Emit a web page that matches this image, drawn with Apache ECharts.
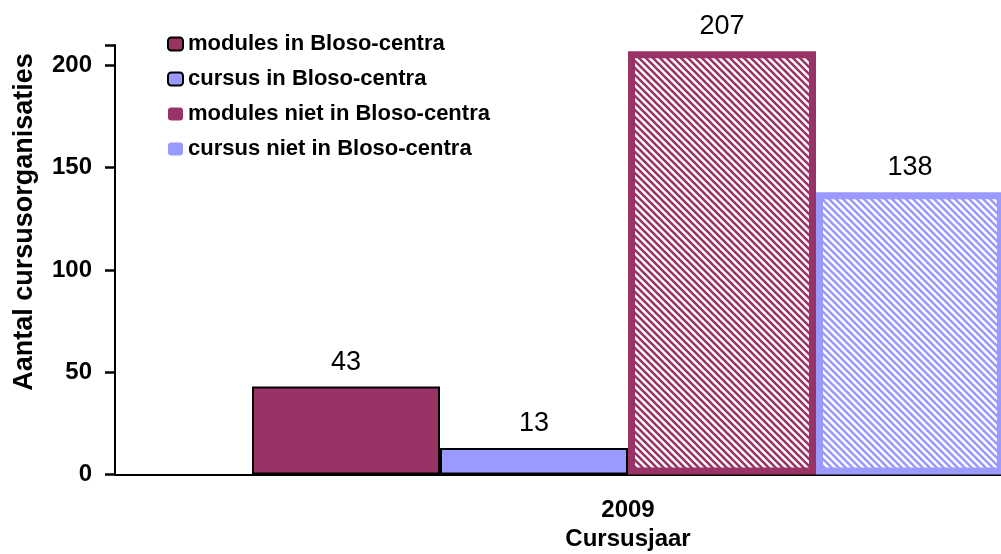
<!DOCTYPE html>
<html>
<head>
<meta charset="utf-8">
<script src="https://cdn.jsdelivr.net/npm/echarts@6/dist/echarts.min.js"></script>
<style>
  html, body { margin: 0; padding: 0; background: #fff; }
  #chart { width: 1001px; height: 554px; }
</style>
</head>
<body>
<div id="chart"></div>
<script>
  // data
  var categories = ['2009'];
  var seriesNames = ['modules in Bloso-centra', 'cursus in Bloso-centra', 'modules niet in Bloso-centra', 'cursus niet in Bloso-centra'];
  var modulesIn = [43];
  var cursusIn = [13];
  var modulesNiet = [207];
  var cursusNiet = [138];
  var yTicks = [0, 50, 100, 150, 200];

  var MAROON = '#993366';
  var LAVENDER = '#9999ff';
  var FONT = '"Liberation Sans", Arial, sans-serif';

  // diagonal hatch, lines from top-left to bottom-right
  function hatch(color) {
    var size = 7;
    var c = document.createElement('canvas');
    c.width = size; c.height = size;
    var ctx = c.getContext('2d');
    ctx.fillStyle = '#fff';
    ctx.fillRect(0, 0, size, size);
    ctx.strokeStyle = color;
    ctx.lineWidth = 2.6;
    for (var k = -1; k <= 1; k++) {
      ctx.beginPath();
      ctx.moveTo(k * size - 1, -1);
      ctx.lineTo(k * size + size + 1, size + 1);
      ctx.stroke();
    }
    return { image: c, repeat: 'repeat' };
  }

  var chart = echarts.init(document.getElementById('chart'));

  var label = {
    show: true,
    position: 'top',
    distance: 11,
    color: '#000',
    fontFamily: FONT,
    fontSize: 27
  };

  var option = {
    animation: false,
    backgroundColor: '#fff',
    grid: {
      left: 115,
      top: 45,
      right: -140,
      bottom: 79.5,
      outerBoundsMode: 'none',
      containLabel: false
    },
    legend: {
      orient: 'vertical',
      left: 162,
      top: 28,
      itemWidth: 15,
      itemHeight: 13,
      itemGap: 13,
      textStyle: { fontFamily: FONT, fontSize: 22, fontWeight: 'bold', color: '#000' },
      data: [
        { name: seriesNames[0], itemStyle: { color: MAROON, borderColor: '#000', borderWidth: 2 } },
        { name: seriesNames[1], itemStyle: { color: LAVENDER, borderColor: '#000', borderWidth: 2 } },
        { name: seriesNames[2], itemStyle: { color: MAROON, borderWidth: 0 } },
        { name: seriesNames[3], itemStyle: { color: LAVENDER, borderWidth: 0 } }
      ]
    },
    xAxis: {
      type: 'category',
      data: categories,
      name: 'Cursusjaar',
      nameLocation: 'middle',
      nameGap: 46,
      nameTextStyle: { fontFamily: FONT, fontSize: 24, fontWeight: 'bold', color: '#000' },
      axisLine: { lineStyle: { color: '#000', width: 2 } },
      axisTick: { show: false },
      axisLabel: { margin: 24, fontFamily: FONT, fontSize: 24, fontWeight: 'bold', color: '#000' }
    },
    yAxis: {
      type: 'value',
      min: 0,
      max: 210,
      interval: 50,
      axisLine: { show: true, lineStyle: { color: '#000', width: 2 } },
      axisTick: { show: true, inside: false, length: 10, lineStyle: { color: '#000', width: 2.5 } },
      splitLine: { show: false },
      axisLabel: {
        margin: 23,
        fontFamily: FONT, fontSize: 24, fontWeight: 'bold', color: '#000',
        formatter: function (v) { return yTicks.indexOf(v) >= 0 ? String(v) : ''; }
      }
    },
    graphic: [{
      type: 'text',
      x: 25,
      y: 222,
      rotation: Math.PI / 2,
      style: {
        text: 'Aantal cursusorganisaties',
        fontFamily: FONT, fontSize: 27, fontWeight: 'bold', fill: '#000',
        align: 'center', verticalAlign: 'middle'
      }
    }],
    series: [
      {
        name: seriesNames[0], type: 'bar', data: modulesIn, barWidth: 188, barGap: '0%',
        itemStyle: { color: MAROON, borderColor: '#000', borderWidth: 2 }, label: label
      },
      {
        name: seriesNames[1], type: 'bar', data: cursusIn, barWidth: 188, barGap: '0%',
        itemStyle: { color: LAVENDER, borderColor: '#000', borderWidth: 2 }, label: label
      },
      {
        name: seriesNames[2], type: 'bar', data: modulesNiet, barWidth: 188, barGap: '0%',
        itemStyle: { color: hatch(MAROON), borderColor: MAROON, borderWidth: 7 }, label: label
      },
      {
        name: seriesNames[3], type: 'bar', data: cursusNiet, barWidth: 188, barGap: '0%',
        itemStyle: { color: hatch(LAVENDER), borderColor: LAVENDER, borderWidth: 7 }, label: label
      }
    ]
  };

  chart.setOption(option);
</script>
</body>
</html>
